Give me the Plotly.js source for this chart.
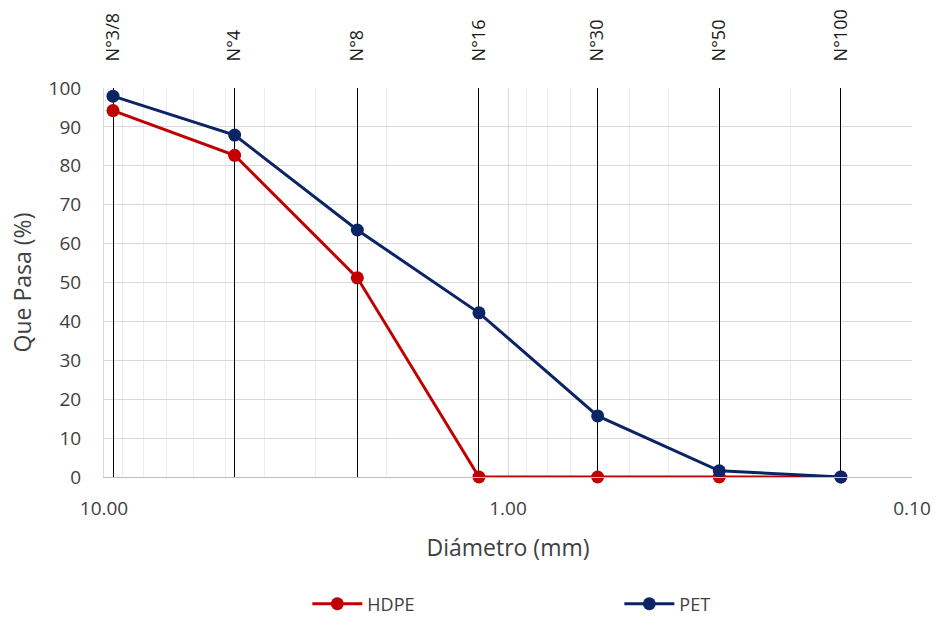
<!DOCTYPE html>
<html>
<head>
<meta charset="utf-8">
<script src="https://cdn.plot.ly/plotly-3.0.1.min.js"></script>
<style>html,body{margin:0;padding:0;background:#fff;}#chart{width:937px;height:617px;}</style>
</head>
<body>
<div id="chart"></div>
<script>
const sieveSizes = [9.5, 4.75, 2.36, 1.18, 0.6, 0.3, 0.15];
const sieveNames = ["N°3/8", "N°4", "N°8", "N°16", "N°30", "N°50", "N°100"];
const hdpe = [94.2, 82.7, 51.2, 0, 0, 0, 0];
const pet = [97.9, 87.9, 63.5, 42.2, 15.7, 1.6, 0];
const xTickVals = [10, 1, 0.1];
const yTickVals = [0, 10, 20, 30, 40, 50, 60, 70, 80, 90, 100];

const FONT = "'Open Sans', Lato, sans-serif";

const traces = [
  {
    x: sieveSizes, y: hdpe, name: "HDPE", type: "scatter", mode: "lines+markers",
    line: {color: "#C00000", width: 3}, marker: {color: "#C00000", size: 13},
    cliponaxis: false
  },
  {
    x: sieveSizes, y: pet, name: "PET", type: "scatter", mode: "lines+markers",
    line: {color: "#0B2466", width: 3}, marker: {color: "#0B2466", size: 13},
    cliponaxis: false
  },
  {
    x: sieveSizes, y: pet, xaxis: "x2", type: "scatter", mode: "none",
    showlegend: false, hoverinfo: "skip"
  }
];

const layout = {
  width: 937, height: 617,
  paper_bgcolor: "#ffffff", plot_bgcolor: "#ffffff",
  font: {family: FONT, color: "#404040", size: 16},
  margin: {l: 104, r: 25, t: 88, b: 140},
  xaxis: {
    type: "log", range: [1, -1], automargin: false,
    tickvals: xTickVals, tickformat: ".2f",
    showgrid: true, gridcolor: "#d9d9d9", gridwidth: 1,
    minor: {showgrid: true, gridcolor: "#ededed", dtick: "D1", ticks: ""},
    ticks: "outside", ticklen: 14, tickcolor: "rgba(0,0,0,0)",
    tickfont: {size: 19, color: "#404040"},
    showline: true, linecolor: "#bfbfbf", linewidth: 1,
    zeroline: false,
    title: {text: "Diámetro (mm)", font: {size: 23, color: "#404040"}, standoff: 20}
  },
  xaxis2: {
    type: "log", range: [1, -1], overlaying: "x", side: "top", automargin: false,
    tickvals: sieveSizes, ticktext: sieveNames, tickangle: -90,
    showgrid: true, gridcolor: "#000000", gridwidth: 1,
    ticks: "outside", ticklen: 22, tickcolor: "rgba(0,0,0,0)",
    tickfont: {size: 18, color: "#1a1a1a"},
    showline: false, zeroline: false
  },
  yaxis: {
    range: [0, 100], tickvals: yTickVals, automargin: false,
    showgrid: true, gridcolor: "#d9d9d9", gridwidth: 1,
    ticks: "outside", ticklen: 18, tickcolor: "rgba(0,0,0,0)",
    tickfont: {size: 19, color: "#404040"},
    showline: true, linecolor: "#d9d9d9",
    zeroline: false,
    title: {text: "Que Pasa (%)", font: {size: 23, color: "#404040"}, standoff: 10}
  },
  legend: {
    orientation: "h", xref: "container", yref: "container",
    x: 0.328, xanchor: "left", y: 0.021, yanchor: "middle",
    font: {size: 18, color: "#404040"}, entrywidth: 247, itemwidth: 50
  },
  showlegend: true
};

Plotly.newPlot("chart", traces, layout, {displayModeBar: false, staticPlot: true});
</script>
</body>
</html>
